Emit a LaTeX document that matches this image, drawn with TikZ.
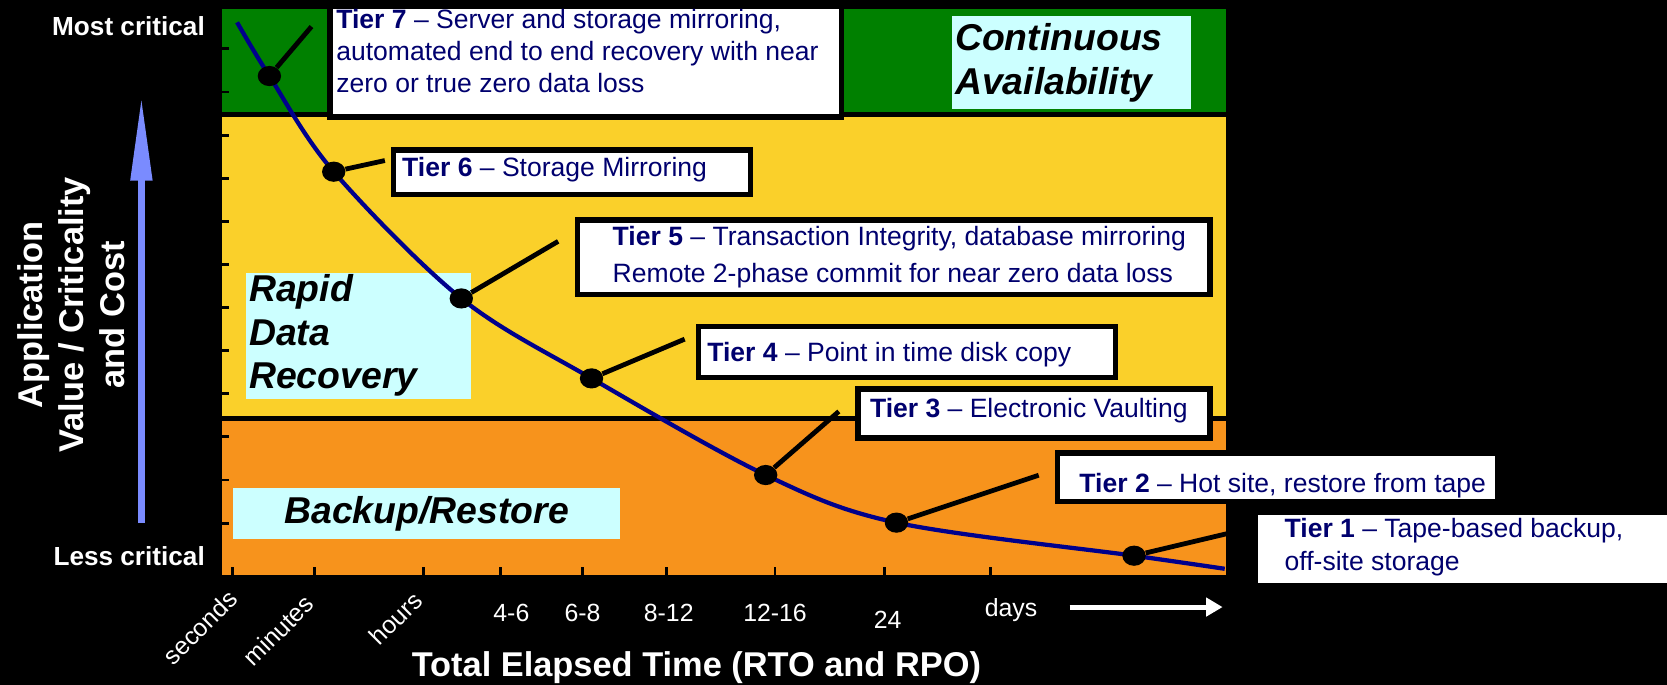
\documentclass[tikz,border=0pt]{standalone}
\usepackage{fontspec}
\setmainfont{Liberation Sans}
\usetikzlibrary{positioning, shapes.geometric, arrows.meta}
\definecolor{bandgreen}{RGB}{0,128,0}
\definecolor{bandyellow}{RGB}{250,208,42}
\definecolor{bandorange}{RGB}{247,147,28}
\definecolor{zonecyan}{RGB}{204,255,255}
\definecolor{tiernavy}{RGB}{0,0,110}
\definecolor{curvenavy}{RGB}{0,0,140}
\definecolor{axisblue}{RGB}{122,139,255}
\tikzset{
	band/.style={
		draw=black,
		line width=1mm,
	},
	tierbox/.style={
		rectangle,
		draw=black,
		line width=1mm,
		fill=white,
		inner sep=0pt,
		anchor=north west,
	},
	tiertext/.style={
		anchor=north west,
		inner sep=0pt,
		align=left,
		text=tiernavy,
		font=\fontsize{14.2}{17.07}\selectfont,
	},
	zonelabel/.style={
		rectangle,
		fill=zonecyan,
		inner xsep=0.6mm,
		inner ysep=0.3mm,
		anchor=north west,
		text=black,
		font=\fontsize{20}{23.3}\selectfont\bfseries\itshape,
	},
	tierdot/.style={
		ellipse,
		fill=black,
		inner sep=0pt,
		minimum width=4.4mm,
		minimum height=3.8mm,
	},
	leader/.style={
		draw=black,
		line width=0.9mm,
	},
	curve/.style={
		draw=curvenavy,
		line width=0.8mm,
	},
	tickmark/.style={
		draw=black,
		line width=0.55mm,
	},
	ticklabel/.style={
		text=white,
		inner sep=0pt,
		font=\fontsize{13.3}{16}\selectfont,
	},
	critlabel/.style={
		text=white,
		inner sep=0pt,
		anchor=base east,
		font=\fontsize{14}{17}\selectfont\bfseries,
	},
	axistitle/.style={
		text=white,
		inner sep=0pt,
		font=\fontsize{18.4}{22.2}\selectfont\bfseries,
	},
	valuearrow/.style={
		-{Triangle[length=16mm, width=3.8mm]},
		draw=axisblue,
		line width=1.4mm,
	},
	timearrow/.style={
		-{Triangle[length=3.1mm, width=3.4mm]},
		draw=white,
		line width=0.94mm,
	},
}

\begin{document}
\begin{tikzpicture}[x=0.2mm, y=-0.2mm]
		% Canvas
		\useasboundingbox (0,0) rectangle (1568,644);
		\fill[black] (0,0) rectangle (1568,644);
		
		% Bands
		\draw[band, fill=bandgreen] (206,5.5) rectangle (1156,108);
		\draw[band, fill=bandyellow] (206,108) rectangle (1156,393.5);
		\draw[band, fill=bandorange] (206,393.5) rectangle (1156,543);
		
		% Ticks
		\draw[tickmark] (206,46) -- ++(9,0) (206,86.5) -- ++(9,0) (206,127.1) -- ++(9,0)
			(206,167.6) -- ++(9,0) (206,208.2) -- ++(9,0) (206,248.8) -- ++(9,0)
			(206,289.3) -- ++(9,0) (206,329.9) -- ++(9,0) (206,370.4) -- ++(9,0)
			(206,411) -- ++(9,0) (206,451.5) -- ++(9,0) (206,492) -- ++(9,0);
		\draw[tickmark] (219,543) -- ++(0,-10) (296,543) -- ++(0,-10) (398,543) -- ++(0,-10)
			(471,543) -- ++(0,-10) (548,543) -- ++(0,-10) (627,543) -- ++(0,-10)
			(729,543) -- ++(0,-10) (832,543) -- ++(0,-10) (932,543) -- ++(0,-10);
		
		% Zone labels
		\node[zonelabel, minimum height=17.4mm, text width=43.8mm, align=left] (contav) at (895,15) {Continuous\\Availability};
		\node[zonelabel, minimum height=23.8mm, text width=41.2mm, align=left] (rapid) at (231,256) {Rapid\\Data\\Recovery};
		\node[zonelabel, minimum height=9.6mm, text width=71.6mm, align=center] (backup) at (219,459) {Backup/Restore};
		
		% Curve
		\coordinate (c0) at (223,21);
		\coordinate (p7) at (253.4,71.5);
		\coordinate (p6) at (313.9,161.5);
		\coordinate (p5) at (433.9,280.7);
		\coordinate (p4) at (556.4,355.9);
		\coordinate (p3) at (720.2,446.8);
		\coordinate (p2) at (843.2,491.6);
		\coordinate (p1) at (1066.7,522.7);
		\coordinate (c8) at (1152,535);
		\draw[curve] plot[smooth, tension=0.55] coordinates {(c0) (p7) (p6) (p5) (p4) (p3) (p2) (p1) (c8)};
		
		% Dots and leaders
		\node[tierdot] (d7) at (p7) {};
		\node[tierdot] (d6) at (p6) {};
		\node[tierdot] (d5) at (p5) {};
		\node[tierdot] (d4) at (p4) {};
		\node[tierdot] (d3) at (p3) {};
		\node[tierdot] (d2) at (p2) {};
		\node[tierdot] (d1) at (p1) {};
		
		\coordinate (l7) at (293,25);
		\coordinate (l6) at (362,151);
		\coordinate (l5) at (525,227);
		\coordinate (l4) at (644,319);
		\coordinate (l3) at (789,387);
		\coordinate (l2) at (977,447);
		\coordinate (l1) at (1154,502);
		
		\draw[leader] (d7) -- (l7);
		\draw[leader] (d6) -- (l6);
		\draw[leader] (d5) -- (l5);
		\draw[leader] (d4) -- (l4);
		\draw[leader] (d3) -- (l3);
		\draw[leader] (d2) -- (l2);
		\draw[leader] (d1) -- (l1);
		
		% Tier boxes
		\node[tierbox, minimum width=96.2mm, minimum height=20.9mm] (t7) at (308,3) {};
		\node[tiertext] (t7txt) at (316,8.6) {\textbf{Tier 7} -- Server and storage mirroring,\\automated end to end recovery with near\\zero or true zero data loss};
		
		\node[tierbox, minimum width=67.2mm, minimum height=8.4mm] (t6) at (367.5,138.5) {};
		\node[tiertext] (t6txt) at (378,147.6) {\textbf{Tier 6} -- Storage Mirroring};
		
		\node[tierbox, minimum width=119mm, minimum height=14mm] (t5) at (540.5,204.5) {};
		\node[tiertext, font=\fontsize{14.2}{19.6}\selectfont] (t5txt) at (576,212.5) {\textbf{Tier 5} -- Transaction Integrity, database mirroring\\Remote 2-phase commit for near zero data loss};
		
		\node[tierbox, minimum width=78.4mm, minimum height=9.6mm] (t4) at (654.5,304.5) {};
		\node[tiertext] (t4txt) at (665,322) {\textbf{Tier 4} -- Point in time disk copy};
		
		\node[tierbox, minimum width=66.2mm, minimum height=9.2mm] (t3) at (804.5,363.5) {};
		\node[tiertext] (t3txt) at (818,374.5) {\textbf{Tier 3} -- Electronic Vaulting};
		
		\node[tierbox, minimum width=82.8mm, minimum height=9.2mm] (t2) at (992.5,423.5) {};
		\node[tiertext] (t2txt) at (1015,445) {\textbf{Tier 2} -- Hot site, restore from tape};
		
		\node[tierbox, minimum width=80mm, minimum height=13.8mm] (t1) at (1178.5,479.5) {};
		\node[tiertext, font=\fontsize{14.2}{17.6}\selectfont] (t1txt) at (1208,487) {\textbf{Tier 1} -- Tape-based backup,\\off-site storage};
		
		% Value axis
		\node[critlabel] (most) at (193,33) {Most critical};
		\node[critlabel] (less) at (193,531.5) {Less critical};
		\node[axistitle, rotate=90, align=center] (ytitle) at (67,296) {Application\\Value / Criticality\\and Cost};
		\coordinate (vlo) at (133,492);
		\coordinate (vhi) at (133,90);
		\draw[valuearrow] (vlo) -- (vhi);
		
		% Time axis
		\node[ticklabel, rotate=45, anchor=base east] (secs) at (225,565) {seconds};
		\node[ticklabel, rotate=45, anchor=base east] (mins) at (297,569.6) {minutes};
		\node[ticklabel, rotate=45, anchor=base east] (hrs) at (399,566.6) {hours};
		\node[ticklabel, anchor=base] (h46) at (481,584.5) {4-6};
		\node[ticklabel, anchor=base] (h68) at (548,584.5) {6-8};
		\node[ticklabel, anchor=base] (h812) at (629,584.5) {8-12};
		\node[ticklabel, anchor=base] (h1216) at (729,584.5) {12-16};
		\node[ticklabel, anchor=base] (h24) at (835,591) {24};
		\node[ticklabel, anchor=base] (days) at (951,580) {days};
		\coordinate (tlo) at (1006,571);
		\coordinate (thi) at (1150,571);
		\draw[timearrow] (tlo) -- (thi);
		\node[axistitle, anchor=base] (xtitle) at (655,636.6) {Total Elapsed Time (RTO and RPO)};

	\end{tikzpicture}
\end{document}
